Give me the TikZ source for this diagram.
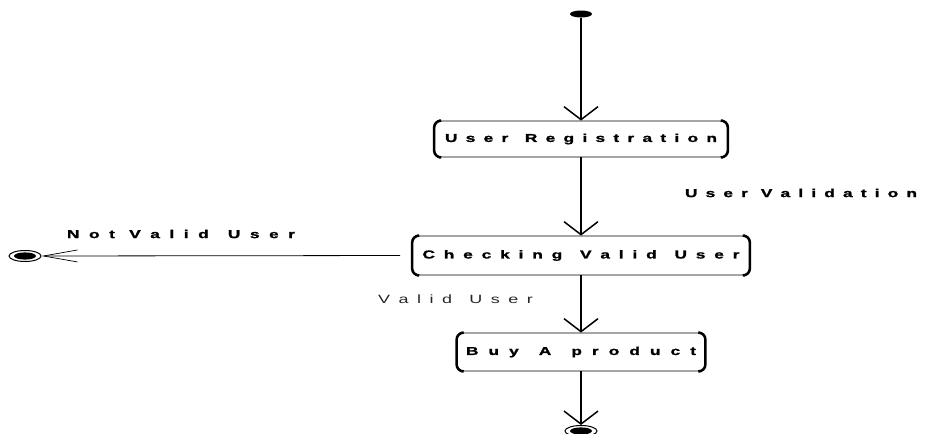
\documentclass[tikz,border=0pt]{standalone}
\usepackage{fontspec}
\setmainfont{Liberation Sans}
\newfontfamily\heavyfont[FakeBold=1.2]{Liberation Sans Bold}
\usepackage{graphicx}
\usetikzlibrary{arrows.meta,shapes.geometric}

% letter gap and tracked, widened text spread over a given width
\newcommand{\sg}{\hfil}
\newcommand{\spreadtxt}[2]{\scalebox{1.5}[1]{\makebox[\dimexpr #1*100/150\relax][s]{#2}}}

\begin{document}
\begin{tikzpicture}[x=1pt,y=-1pt,
  act/.style={rectangle, rounded corners=7pt, draw, line width=0.8pt, inner sep=0pt,
    font=\fontsize{11.5}{13}\heavyfont},
  actside/.style={line width=2.5pt, rounded corners=7pt},
  flow/.style={line width=2.8pt, -{Straight Barb[length=13pt,width=34pt,line width=1.5pt]}},
  thinflow/.style={line width=0.8pt, -{Straight Barb[length=34pt,width=12pt,line width=0.7pt]}},
  initial/.style={ellipse, fill=black, minimum width=22pt, minimum height=7pt, inner sep=0pt},
  final/.style={ellipse, draw, line width=1pt, minimum width=32pt, minimum height=11pt, inner sep=0pt,
    path picture={\fill (path picture bounding box.center) ellipse (11pt and 3.6pt);}},
  lbl/.style={inner sep=0pt, font=\fontsize{11.5}{13}\heavyfont},
  lblplain/.style={inner sep=0pt, text=black!85, font=\fontsize{12}{14}\selectfont},
]
\useasboundingbox (0,0) rectangle (927,434);

% activity states
\node[act, minimum width=293pt, minimum height=36pt] (reg) at (581,139)
  {\spreadtxt{272pt}{U\sg s\sg e\sg r\sg\sg R\sg e\sg g\sg i\sg s\sg t\sg r\sg a\sg t\sg i\sg o\sg n}};
\node[act, minimum width=337pt, minimum height=39pt] (chk) at (581,255.5)
  {\spreadtxt{317pt}{C\sg h\sg e\sg c\sg k\sg i\sg n\sg g\sg\sg V\sg a\sg l\sg i\sg d\sg\sg U\sg s\sg e\sg r}};
\node[act, minimum width=248pt, minimum height=38pt] (buy) at (581,352)
  {\spreadtxt{230pt}{B\sg u\sg y\sg\sg A\sg\sg p\sg r\sg o\sg d\sg u\sg c\sg t}};

% bracket-like heavy sides of the activity boxes
\foreach \b in {reg,chk,buy}{
  \draw[actside] ([xshift=5pt]\b.north west) -- (\b.north west) -- (\b.south west) -- ([xshift=5pt]\b.south west);
  \draw[actside] ([xshift=-5pt]\b.north east) -- (\b.north east) -- (\b.south east) -- ([xshift=-5pt]\b.south east);
}

% initial and final states
\node[initial] (start) at (581,14) {};
\node[final] (endbuy) at (581,431) {};
\node[final] (endfail) at (25,256) {};

% transitions
\draw[flow] (start) -- (reg);
\draw[flow] (reg) -- (chk);
\draw[flow] (chk) -- (buy);
\draw[flow] (buy) -- (endbuy);
\draw[thinflow, shorten <=12pt] (chk.west) -- (endfail.east);

% transition labels
\node[lbl] (uvlab) at (801,193)
  {\spreadtxt{232pt}{U\sg s\sg e\sg r\sg\ V\sg a\sg l\sg i\sg d\sg a\sg t\sg i\sg o\sg n}};
\node[lbl] (nvlab) at (181,234)
  {\spreadtxt{228pt}{N\sg o\sg t\sg\ V\sg a\sg l\sg i\sg d\sg\sg U\sg s\sg e\sg r}};
\node[lblplain] (vlab) at (455.5,299)
  {\spreadtxt{155pt}{V\sg a\sg l\sg i\sg d\sg\sg U\sg s\sg e\sg r}};
\end{tikzpicture}
\end{document}
